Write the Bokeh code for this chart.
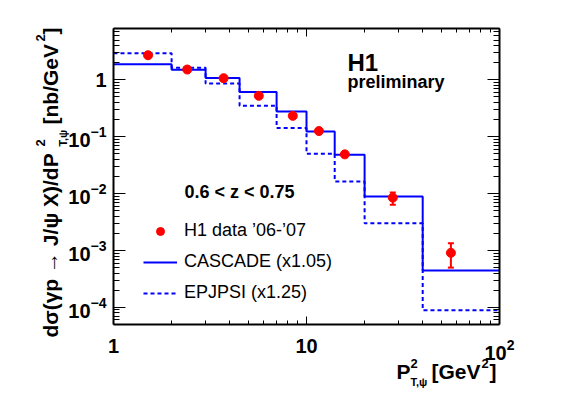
import numpy as np
from math import log10
from bokeh.plotting import figure
from bokeh.models import (LogAxis, FixedTicker, LogTickFormatter, Label, Legend,
                          LegendItem, Whisker, ColumnDataSource, TeeHead,
                          CustomJSTickFormatter, Range1d)
from bokeh.embed import file_html
from bokeh.resources import INLINE

# ---- data ----
bin_edges = [1, 2, 3, 4.5, 7, 10, 14, 20, 40, 100]
cascade = [1.88, 1.50, 1.08, 0.61, 0.278, 0.124, 0.0483, 0.0089, 4.46e-4]
epjpsi = [2.94, 1.64, 0.86, 0.35, 0.142, 0.050, 0.0164, 0.0030, 8.9e-5]
data_x = [1.51, 2.41, 3.72, 5.66, 8.49, 11.6, 15.8, 28.0, 56.0]
data_y = [2.71, 1.52, 1.07, 0.524, 0.233, 0.126, 0.049, 0.0085, 9.1e-4]
data_lo = [2.55, 1.43, 1.00, 0.49, 0.218, 0.117, 0.0455, 0.0064, 5.0e-4]
data_hi = [2.87, 1.61, 1.14, 0.558, 0.248, 0.135, 0.0525, 0.0105, 1.34e-3]

legend_labels = ["H1 data \u201906-\u201907", "CASCADE (x1.05)", "EPJPSI (x1.25)"]

# axis ranges and ticks
x_lo, x_hi = 1, 100
y_lo, y_hi = 5e-5, 8
x_major = [1, 10, 100]
x_minor = [2, 3, 4, 5, 6, 7, 8, 9, 20, 30, 40, 50, 60, 70, 80, 90]
y_major = [1e-4, 1e-3, 1e-2, 1e-1, 1]
y_minor = ([6e-5, 7e-5, 8e-5, 9e-5]
           + [m * 1e-4 for m in range(2, 10)] + [m * 1e-3 for m in range(2, 10)]
           + [m * 1e-2 for m in range(2, 10)] + [m * 1e-1 for m in range(2, 10)]
           + [2, 3, 4, 5, 6, 7, 8])

FONT = "Liberation Sans"
BLUE = "#0000ff"
RED = "#ff0000"

# ---- layout: frame fills canvas, the visible box is drawn by fixed axes ----
W, H = 560, 390
BOX_L, BOX_R, BOX_T, BOX_B = 113, 499, 28, 324
xdec = (BOX_R - BOX_L) / (log10(x_hi) - log10(x_lo))
ydec = (BOX_B - BOX_T) / (log10(y_hi) - log10(y_lo))
x_start = 10 ** (log10(x_lo) - BOX_L / xdec)
x_end = 10 ** (log10(x_hi) + (W - BOX_R) / xdec)
y_start = 10 ** (log10(y_lo) - (H - BOX_B) / ydec)
y_end = 10 ** (log10(y_hi) + BOX_T / ydec)

p = figure(width=W, height=H, x_axis_type="log", y_axis_type="log",
           x_range=Range1d(x_start, x_end), y_range=Range1d(y_start, y_end),
           output_backend="svg", toolbar_location=None, title=None,
           min_border_left=0, min_border_right=0,
           min_border_top=0, min_border_bottom=0)
p.xgrid.visible = False
p.ygrid.visible = False
p.outline_line_color = None
p.background_fill_color = "white"
p.border_fill_color = "white"


def style_axis(ax, loc, bounds, ticks, minors, major, minor, labels):
    ax.fixed_location = loc
    ax.bounds = bounds
    ax.ticker = FixedTicker(ticks=ticks, minor_ticks=minors)
    ax.major_tick_in = major
    ax.major_tick_out = 0
    ax.minor_tick_in = minor
    ax.minor_tick_out = 0
    ax.axis_line_width = 2
    ax.axis_line_color = "black"
    ax.major_tick_line_width = 1
    ax.minor_tick_line_width = 1
    ax.major_label_text_font = FONT
    ax.major_label_text_font_style = "bold"
    ax.major_label_text_font_size = "20px" if labels else "0px"
    ax.major_label_text_color = "black"


xb = p.xaxis[0]
yl = p.yaxis[0]
style_axis(xb, y_lo, (x_lo, x_hi), x_major, x_minor, 8, 4, True)
style_axis(yl, x_lo, (y_lo, y_hi), y_major, y_minor, 12, 6, True)
xb.formatter = LogTickFormatter(min_exponent=2)
yl.formatter = LogTickFormatter(min_exponent=1)
xb.major_label_standoff = 14
yl.major_label_standoff = 7

top = LogAxis(formatter=CustomJSTickFormatter(code="return ''"))
right = LogAxis(formatter=CustomJSTickFormatter(code="return ''"))
style_axis(top, y_hi, (x_lo, x_hi), x_major, x_minor, 8, 4, False)
style_axis(right, x_hi, (y_lo, y_hi), y_major, y_minor, 12, 6, False)
p.add_layout(top, "above")
p.add_layout(right, "right")

# ---- histograms ----
cas_r = p.step(bin_edges, cascade + [cascade[-1]], mode="after",
               line_color=BLUE, line_width=2)
epj_r = p.step(bin_edges, epjpsi + [epjpsi[-1]], mode="after",
               line_color=BLUE, line_width=2, line_dash="4 3")

# ---- data points ----
src = ColumnDataSource(dict(x=data_x, y=data_y, lo=data_lo, hi=data_hi))
p.add_layout(Whisker(source=src, base="x", lower="lo", upper="hi",
                     line_color=RED, line_width=2,
                     upper_head=TeeHead(size=6, line_color=RED, line_width=2),
                     lower_head=TeeHead(size=6, line_color=RED, line_width=2)))
pts_r = p.scatter("x", "y", source=src, size=9, color=RED)

# ---- legend ----
legend = Legend(items=[LegendItem(label=legend_labels[0], renderers=[pts_r]),
                       LegendItem(label=legend_labels[1], renderers=[cas_r]),
                       LegendItem(label=legend_labels[2], renderers=[epj_r])],
                location=(143, H - 303), glyph_width=34, glyph_height=20,
                label_height=20, label_standoff=7, spacing=10, padding=0,
                margin=0, border_line_color=None, background_fill_alpha=0,
                label_text_font=FONT, label_text_font_size="18px",
                label_text_color="black")
p.add_layout(legend)


# ---- texts: (px, py) = start of the baseline in canvas pixels, y from top ----
def lab(text, px, py, size, bold=True, rotated=False):
    shift = 0.35 * size      # baseline -> middle of the em box
    if rotated:
        x, y, angle = px - shift, H - py, np.pi / 2
    else:
        x, y, angle = px, H - (py - shift), 0.0
    p.add_layout(Label(x=x, y=y, x_units="screen", y_units="screen",
                       text=text, text_font=FONT, text_font_size=f"{size}px",
                       text_font_style="bold" if bold else "normal",
                       text_color="black", angle=angle,
                       text_align="left", text_baseline="middle"))


lab("H1", 347, 70, 24)
lab("preliminary", 347, 88, 18)
lab("0.6 < z < 0.75", 184, 198, 18)

# y-axis title (rotated, reads upwards)
lab("d\u03c3(\u03b3p \u2192 J/\u03c8 X)/dP", 57, 337, 21, rotated=True)
lab("2", 45, 146, 13, rotated=True)
lab("T,\u03c8", 66, 146, 11, rotated=True)
lab("[nb/GeV", 57, 124, 21, rotated=True)
lab("2", 45, 41, 13, rotated=True)
lab("]", 57, 34, 21, rotated=True)

# x-axis title
lab("P", 396, 378, 21)
lab("2", 410, 368, 13)
lab("T,\u03c8", 410, 385, 11)
lab("[GeV", 431, 378, 21)
lab("2", 481, 368, 13)
lab("]", 489, 378, 21)

open("out.html", "w").write(file_html(p, INLINE))
